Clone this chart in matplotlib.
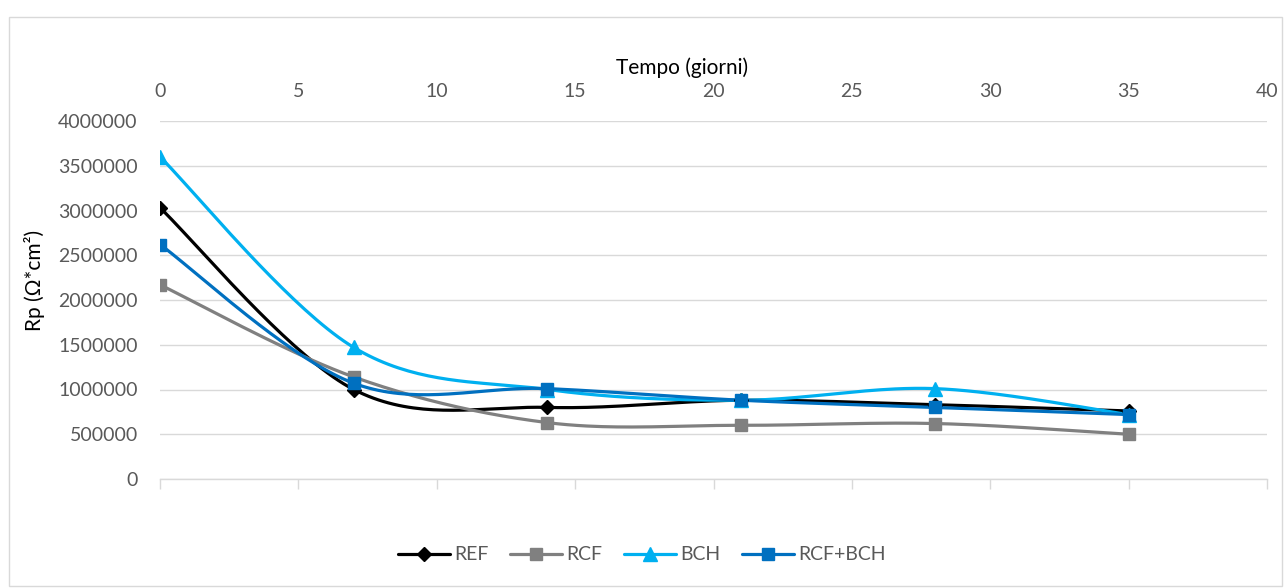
import numpy as np
import matplotlib
matplotlib.use("Agg")
import matplotlib.pyplot as plt
from matplotlib.patches import Rectangle

plt.rcParams['font.family'] = ['Lato', 'DejaVu Sans']

days = [0, 7, 14, 21, 28, 35]
ref = [3030000, 1000000, 800000, 880000, 830000, 760000]
rcf = [2170000, 1140000, 630000, 600000, 620000, 500000]
bch = [3600000, 1470000, 1000000, 880000, 1010000, 720000]
rcf_bch = [2620000, 1070000, 1010000, 880000, 800000, 720000]

series_names = ["REF", "RCF", "BCH", "RCF+BCH"]
x_ticks = [0, 5, 10, 15, 20, 25, 30, 35, 40]
y_ticks = [0, 500000, 1000000, 1500000, 2000000, 2500000, 3000000, 3500000, 4000000]


def smooth(xs, ys, n=40):
    """Catmull-Rom style smoothing through every point (Bezier with 1/6 handles)."""
    p = np.column_stack([xs, ys]).astype(float)
    pts = np.vstack([p[0], p, p[-1]])
    out = []
    for i in range(1, len(pts) - 2):
        p0, p1, p2, p3 = pts[i - 1], pts[i], pts[i + 1], pts[i + 2]
        c1 = p1 + (p2 - p0) / 6.0
        c2 = p2 - (p3 - p1) / 6.0
        t = np.linspace(0, 1, n)[:, None]
        seg = ((1 - t) ** 3) * p1 + 3 * ((1 - t) ** 2) * t * c1 + 3 * (1 - t) * t ** 2 * c2 + t ** 3 * p2
        out.append(seg if i == 1 else seg[1:])
    s = np.vstack(out)
    return s[:, 0], s[:, 1]


fig = plt.figure(figsize=(12.85, 5.88), dpi=100)
fig.patches.append(Rectangle((9 / 1285, 2 / 588), 1273 / 1285, 569 / 588, transform=fig.transFigure,
                             fill=False, edgecolor="#D9D9D9", linewidth=1.0))

ax = fig.add_axes([160 / 1285, 109 / 588, 1107 / 1285, 358 / 588])
ax.set_xlim(0, 40)
ax.set_ylim(0, 4000000)

styles = [
    dict(color="#000000", marker="D", ms=7),
    dict(color="#808080", marker="s", ms=9),
    dict(color="#00B0F0", marker="^", ms=10),
    dict(color="#0070C0", marker="s", ms=9),
]
handles = []
for name, vals, st in zip(series_names, [ref, rcf, bch, rcf_bch], styles):
    sx, sy = smooth(days, vals)
    ax.plot(sx, sy, color=st["color"], lw=2.3, solid_capstyle="round", zorder=3)
    ax.plot(days, vals, linestyle="none", marker=st["marker"], ms=st["ms"],
            color=st["color"], mec=st["color"], zorder=4)
    h, = ax.plot([], [], color=st["color"], lw=2.3, marker=st["marker"], ms=st["ms"],
                 mec=st["color"], solid_capstyle="round", label=name)
    handles.append(h)

ax.set_xticks(x_ticks)
ax.set_yticks(y_ticks)
ax.set_yticklabels([str(v) for v in y_ticks])
ax.grid(axis="y", color="#D9D9D9", lw=1.0)
ax.set_axisbelow(True)
for sp in ["left", "right", "top"]:
    ax.spines[sp].set_visible(False)
ax.spines["bottom"].set_color("#D9D9D9")
ax.spines["bottom"].set_linewidth(1.0)

ax.tick_params(axis="x", bottom=True, top=False, labelbottom=False, labeltop=True,
               direction="out", length=7, width=1.0, color="#D9D9D9",
               labelsize=14, labelcolor="#595959", pad=8)
ax.tick_params(axis="y", left=False, labelsize=14, labelcolor="#595959", pad=12.5)

ax.xaxis.set_label_position("top")
ax.set_xlabel("Tempo (giorni)", fontsize=15, color="#000000")
ax.xaxis.set_label_coords(0.4715, 1.132)
ax.set_ylabel("Rp (Ω*cm²)", fontsize=15, color="#000000")
ax.yaxis.set_label_coords(-0.104, 0.556)

fig.legend(handles=handles, loc="center", bbox_to_anchor=(642 / 1285, 1 - 555 / 588),
           ncol=4, frameon=False, fontsize=14, handlelength=2.65, handletextpad=0.25,
           columnspacing=1.1, labelcolor="#595959")

fig.savefig("out.png", dpi=100)
